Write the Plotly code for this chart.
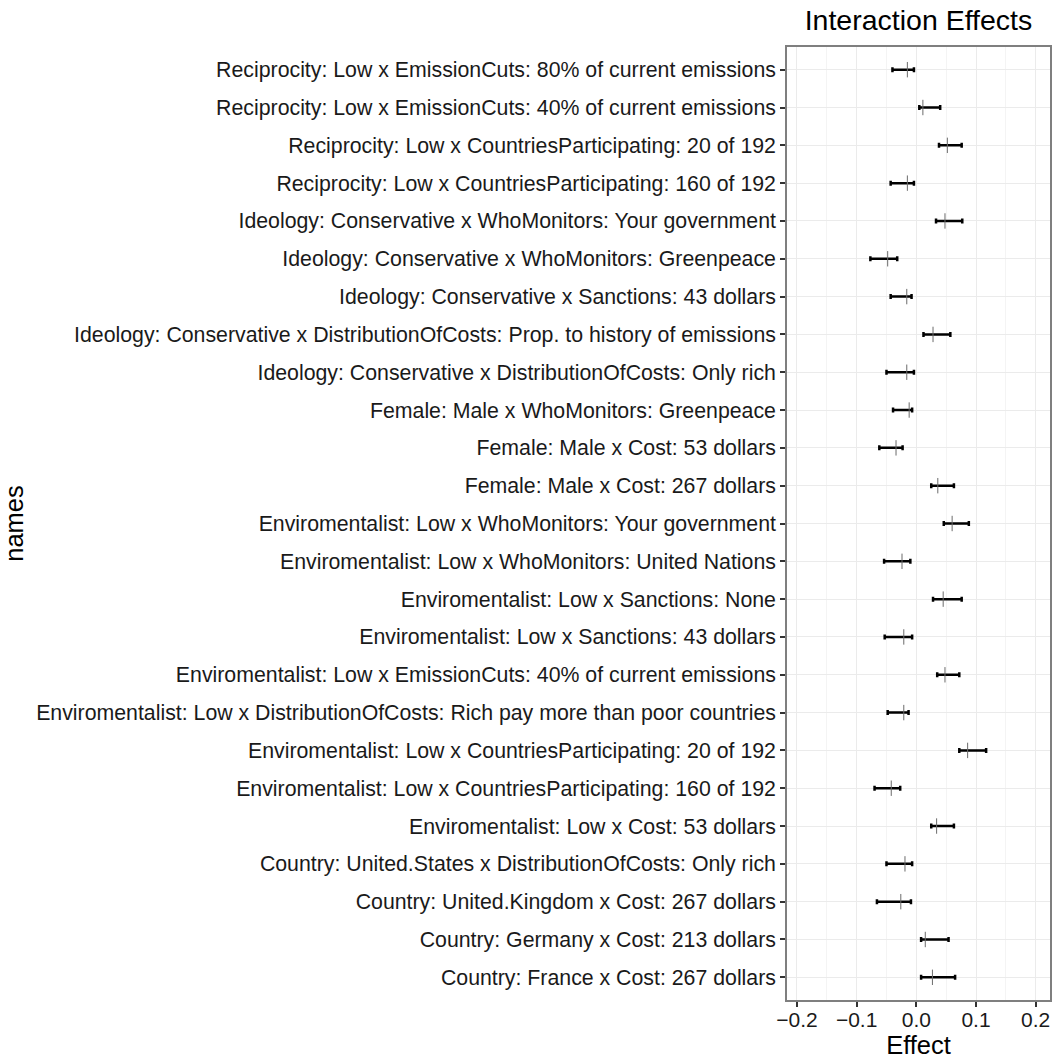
import plotly.graph_objects as go

# Interaction terms, listed top to bottom
names = [
    "Reciprocity: Low x EmissionCuts: 80% of current emissions",
    "Reciprocity: Low x EmissionCuts: 40% of current emissions",
    "Reciprocity: Low x CountriesParticipating: 20 of 192",
    "Reciprocity: Low x CountriesParticipating: 160 of 192",
    "Ideology: Conservative x WhoMonitors: Your government",
    "Ideology: Conservative x WhoMonitors: Greenpeace",
    "Ideology: Conservative x Sanctions: 43 dollars",
    "Ideology: Conservative x DistributionOfCosts: Prop. to history of emissions",
    "Ideology: Conservative x DistributionOfCosts: Only rich",
    "Female: Male x WhoMonitors: Greenpeace",
    "Female: Male x Cost: 53 dollars",
    "Female: Male x Cost: 267 dollars",
    "Enviromentalist: Low x WhoMonitors: Your government",
    "Enviromentalist: Low x WhoMonitors: United Nations",
    "Enviromentalist: Low x Sanctions: None",
    "Enviromentalist: Low x Sanctions: 43 dollars",
    "Enviromentalist: Low x EmissionCuts: 40% of current emissions",
    "Enviromentalist: Low x DistributionOfCosts: Rich pay more than poor countries",
    "Enviromentalist: Low x CountriesParticipating: 20 of 192",
    "Enviromentalist: Low x CountriesParticipating: 160 of 192",
    "Enviromentalist: Low x Cost: 53 dollars",
    "Country: United.States x DistributionOfCosts: Only rich",
    "Country: United.Kingdom x Cost: 267 dollars",
    "Country: Germany x Cost: 213 dollars",
    "Country: France x Cost: 267 dollars",
]

# Point estimates and interval bounds
effect = [-0.015, 0.011, 0.052, -0.015, 0.048, -0.048, -0.016, 0.028, -0.016,
          -0.012, -0.034, 0.036, 0.060, -0.024, 0.045, -0.021, 0.048, -0.021,
          0.086, -0.042, 0.034, -0.019, -0.026, 0.015, 0.027]
lower = [-0.040, 0.005, 0.038, -0.043, 0.033, -0.077, -0.043, 0.012, -0.050,
         -0.039, -0.062, 0.025, 0.046, -0.054, 0.028, -0.053, 0.035, -0.048,
         0.072, -0.070, 0.025, -0.050, -0.066, 0.008, 0.008]
upper = [-0.004, 0.040, 0.076, -0.004, 0.077, -0.032, -0.008, 0.057, -0.004,
         -0.007, -0.023, 0.063, 0.088, -0.010, 0.076, -0.007, 0.072, -0.013,
         0.117, -0.027, 0.063, -0.007, -0.009, 0.054, 0.065]

x_ticks = [-0.2, -0.1, 0.0, 0.1, 0.2]
x_labels = ["\u22120.2", "\u22120.1", "0.0", "0.1", "0.2"]

FONT = "Liberation Sans, Arial, sans-serif"

fig = go.Figure()

# Horizontal intervals
fig.add_trace(go.Scatter(
    x=effect, y=names, mode="markers",
    marker=dict(size=0.1, color="rgba(0,0,0,0)"),
    error_x=dict(type="data", symmetric=False,
                 array=[u - e for u, e in zip(upper, effect)],
                 arrayminus=[e - l for e, l in zip(effect, lower)],
                 color="black", thickness=2.5, width=2.5),
    showlegend=False, hoverinfo="skip",
))

# Point estimate ticks
fig.add_trace(go.Scatter(
    x=effect, y=names, mode="markers",
    marker=dict(symbol="line-ns", size=11,
                line=dict(color="#6b6b6b", width=1)),
    showlegend=False,
))

fig.update_layout(
    width=1054, height=1059,
    margin=dict(l=787, r=2, t=47, b=59),
    paper_bgcolor="white", plot_bgcolor="white",
    font=dict(family=FONT, color="black"),
    title=dict(text="Interaction Effects", x=0.5, xref="paper",
               xanchor="center", y=1, yref="container", yanchor="top",
               pad=dict(t=10),
               font=dict(size=28.5, color="black", family=FONT)),
)

fig.update_xaxes(
    range=[-0.2167, 0.224],
    tickvals=x_ticks, ticktext=x_labels,
    tickfont=dict(size=21, color="#1a1a1a"),
    ticks="outside", ticklen=5, tickwidth=1.5, tickcolor="#333333",
    ticklabelstandoff=-5,
    showgrid=True, gridcolor="#EBEBEB", gridwidth=1.2,
    minor=dict(tickvals=[-0.15, -0.05, 0.05, 0.15], showgrid=True,
               gridcolor="#F4F4F4", gridwidth=1, ticks=""),
    zeroline=False,
    showline=True, mirror=True, linecolor="#7F7F7F", linewidth=1.6,
    title=dict(text="Effect", font=dict(size=25.5, color="black"), standoff=0),
)

fig.update_yaxes(
    type="category", categoryorder="array", categoryarray=names,
    range=[len(names) - 0.4, -0.6],
    tickfont=dict(size=21.3, color="#1a1a1a"),
    ticks="outside", ticklen=5, tickwidth=1.5, tickcolor="#333333",
    showgrid=True, gridcolor="#EBEBEB", gridwidth=1.2,
    zeroline=False,
    showline=True, mirror=True, linecolor="#7F7F7F", linewidth=1.6,
    title=dict(text="names", font=dict(size=25.5, color="black"), standoff=6),
)

fig.write_html("out.html")
